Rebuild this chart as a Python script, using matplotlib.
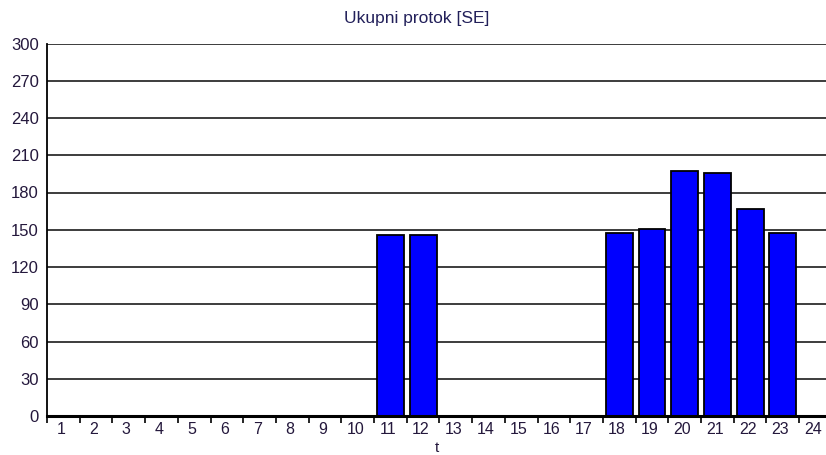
import matplotlib
matplotlib.use("Agg")
import matplotlib.pyplot as plt
import matplotlib.transforms as mtransforms
from matplotlib.ticker import FixedLocator, NullFormatter

hours = list(range(1, 25))
flow = [0, 0, 0, 0, 0, 0, 0, 0, 0, 0, 146, 146, 0, 0, 0, 0, 0, 147, 151, 197, 196, 167, 147, 0]
yticks = [0, 30, 60, 90, 120, 150, 180, 210, 240, 270, 300]
title = "Ukupni protok [SE]"
xlabel = "t"

plt.rcParams['font.family'] = ['Liberation Sans', 'DejaVu Sans']
fig = plt.figure(figsize=(8.26, 4.55), dpi=100)
ax = fig.add_axes([47/826, 1-416/455, 1-47/826, (416-43.5)/455])

ax.set_ylim(0, 300)
ax.set_xlim(0.5, 24.32)
ax.set_yticks(yticks)
ax.yaxis.grid(True, color='#3c3c3c', linewidth=1.4)
ax.set_axisbelow(True)

ax.bar(hours, flow, width=0.82, color='#0000ff', edgecolor='black', linewidth=1.3, zorder=3)

ax.set_xticks(hours)
ax.set_xticklabels([str(h) for h in hours])
ax.tick_params(axis='x', which='major', length=0, pad=4, labelsize=11.5, labelcolor='#24183c')
ax.xaxis.set_minor_locator(FixedLocator([h + 0.5 for h in range(0, 25)]))
ax.xaxis.set_minor_formatter(NullFormatter())
ax.tick_params(axis='x', which='minor', length=5, width=1.2, color='black', direction='out')
ax.tick_params(axis='y', length=0, pad=6, labelsize=12, labelcolor='#24183c')

offset = mtransforms.ScaledTranslation(-2.5/100, 0, fig.dpi_scale_trans)
for lbl in ax.get_xticklabels():
    lbl.set_transform(lbl.get_transform() + offset)

for s in ['top', 'right']:
    ax.spines[s].set_visible(False)
ax.spines['left'].set_linewidth(1.3)
ax.spines['bottom'].set_linewidth(2.2)
ax.spines['bottom'].set_zorder(4)

fig.text(417/826, 1-18/455, title, ha='center', va='center', fontsize=12.5, color='#22205a')
fig.text(437/826, 1-448/455, xlabel, ha='center', va='center', fontsize=11, color='#24183c')

fig.savefig("out.png", dpi=100)
